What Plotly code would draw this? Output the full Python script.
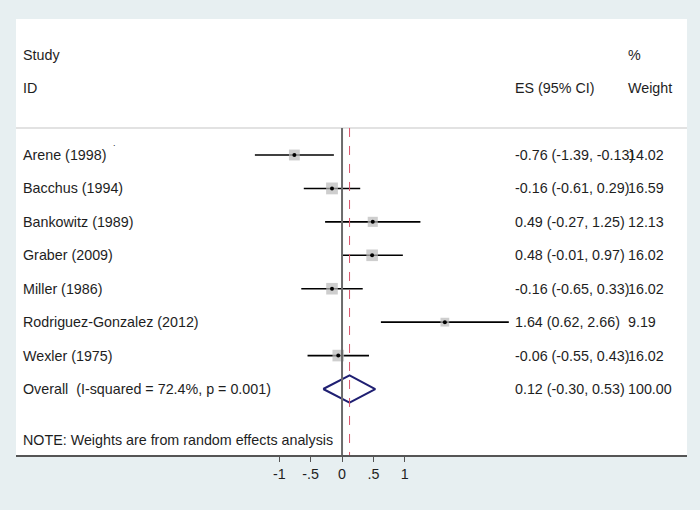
import plotly.graph_objects as go

studies = ["Arene (1998)", "Bacchus (1994)", "Bankowitz (1989)", "Graber (2009)",
           "Miller (1986)", "Rodriguez-Gonzalez (2012)", "Wexler (1975)"]
es = [-0.76, -0.16, 0.49, 0.48, -0.16, 1.64, -0.06]
lo = [-1.39, -0.61, -0.27, -0.01, -0.65, 0.62, -0.55]
hi = [-0.13, 0.29, 1.25, 0.97, 0.33, 2.66, 0.43]
weight = [14.02, 16.59, 12.13, 16.02, 16.02, 9.19, 16.02]

overall_label = "Overall  (I-squared = 72.4%, p = 0.001)"
overall_es, overall_lo, overall_hi, overall_w = 0.12, -0.30, 0.53, 100.00
note = "NOTE: Weights are from random effects analysis"

tick_vals = [-1, -0.5, 0, 0.5, 1]
tick_text = ["-1", "-.5", "0", ".5", "1"]

FONT = "Liberation Sans, Arial, sans-serif"
FS = 14.3
TXT = "#1e1e1e"
BG = "#e7eff1"

n = len(studies)
rows = list(range(1, n + 1))
overall_row = n + 1
note_row = 9.52

fig = go.Figure()

# CI lines
cx, cy = [], []
for r, a, b in zip(rows, lo, hi):
    cx += [a, b, None]
    cy += [r, r, None]
fig.add_trace(go.Scatter(x=cx, y=cy, mode="lines",
                         line=dict(color="black", width=1.6),
                         hoverinfo="skip", showlegend=False))
# weight squares
fig.add_trace(go.Scatter(x=es, y=rows, mode="markers",
                         marker=dict(symbol="square", color="#b9b9b9",
                                     size=[2.9 * w ** 0.5 for w in weight],
                                     line=dict(width=0)),
                         showlegend=False))
# centre dots
fig.add_trace(go.Scatter(x=es, y=rows, mode="markers",
                         marker=dict(symbol="circle", color="black", size=4),
                         showlegend=False))
# diamond
h = 0.41
fig.add_trace(go.Scatter(
    x=[overall_lo, overall_es, overall_hi, overall_es, overall_lo],
    y=[overall_row, overall_row - h, overall_row, overall_row + h, overall_row],
    mode="lines", line=dict(color="#1f1f72", width=2),
    showlegend=False, hoverinfo="skip"))

top_row = -3.068
bot_row = 9.974
sep_row = 0.192

shapes = [
    dict(type="line", xref="paper", yref="y", x0=0, x1=1, y0=sep_row, y1=sep_row,
         line=dict(color="#d8d8d8", width=1.5)),
    dict(type="line", xref="x", yref="y", x0=0, x1=0, y0=sep_row, y1=bot_row,
         line=dict(color="#6b6b6b", width=2)),
    dict(type="line", xref="x", yref="y", x0=overall_es, x1=overall_es,
         y0=sep_row, y1=bot_row,
         line=dict(color="#d9536b", width=1, dash="dash")),
]

x_left, x_es, x_w = -5.12, 2.73, 4.53
ann = []
def add(x, y, t, size=FS):
    ann.append(dict(x=x, y=y, xref="x", yref="y", text=t, showarrow=False,
                    xanchor="left", yanchor="middle",
                    font=dict(family=FONT, size=size, color=TXT)))

add(x_left, -2, "Study")
add(x_left, -1, "ID")
add(x_es, -1, "ES (95% CI)")
add(x_w, -2, "%")
add(x_w, -1, "Weight")
for r, s, e, a, b, w in zip(rows, studies, es, lo, hi, weight):
    add(x_left, r, s)
    add(x_es, r, f"{e:.2f} ({a:.2f}, {b:.2f})")
    add(x_w, r, f"{w:.2f}")
add(x_left, overall_row, overall_label)
add(x_es, overall_row, f"{overall_es:.2f} ({overall_lo:.2f}, {overall_hi:.2f})")
add(x_w, overall_row, f"{overall_w:.2f}")
add(x_left, note_row, note)
add(-3.68, 0.64, ".", size=9)

fig.update_layout(
    width=700, height=510,
    margin=dict(l=16, r=13, t=19, b=55),
    paper_bgcolor=BG, plot_bgcolor="white",
    shapes=shapes, annotations=ann,
    showlegend=False,
    xaxis=dict(range=[-5.20, 5.502], showgrid=False, zeroline=False,
               showline=True, linecolor="#555555", linewidth=2,
               tickmode="array", tickvals=tick_vals, ticktext=tick_text,
               ticks="outside", ticklen=5, tickcolor="#555555", tickwidth=1,
               tickfont=dict(family=FONT, size=FS, color=TXT)),
    yaxis=dict(range=[bot_row, top_row], showgrid=False, zeroline=False,
               showticklabels=False, showline=False),
)

fig.write_html("out.html",
               config={"displayModeBar": False},
               post_script="document.body.style.margin='0';"
                           "document.body.style.background='" + BG + "';")
